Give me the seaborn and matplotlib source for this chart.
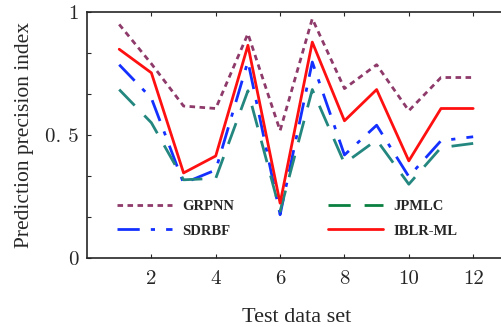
import numpy as np
import pandas as pd
import seaborn as sns
import matplotlib
matplotlib.use('Agg')
import matplotlib.pyplot as plt

# test data sets and prediction precision per method
test_set = [1, 2, 3, 4, 5, 6, 7, 8, 9, 10, 11, 12]
grpnn = [0.95, 0.79, 0.618, 0.608, 0.912, 0.518, 0.973, 0.689, 0.786, 0.599, 0.734, 0.734]
sdrbf = [0.786, 0.65, 0.304, 0.358, 0.80, 0.176, 0.797, 0.419, 0.54, 0.331, 0.477, 0.493]
jpmlc = [0.685, 0.55, 0.318, 0.324, 0.68, 0.19, 0.685, 0.385, 0.48, 0.30, 0.449, 0.466]
iblr_ml = [0.849, 0.753, 0.346, 0.415, 0.865, 0.223, 0.878, 0.558, 0.685, 0.395, 0.608, 0.608]

x_ticks = [2, 4, 6, 8, 10, 12]
y_ticks = [0, 1/6, 2/6, 3/6, 4/6, 5/6, 1]
y_labels = ['0', '', '', '0. 5', '', '', '1']

sns.set_style('ticks')
plt.rcParams['font.family'] = ['Liberation Serif', 'DejaVu Serif']

fig = plt.figure(figsize=(5.01, 3.27), dpi=100)
ax = fig.add_axes([0.1737, 0.211, 0.835, 0.752])

series = [
    ('GRPNN', grpnn, '#8e3a6a', (0, (2, 1.6))),
    ('SDRBF', sdrbf, '#1430ff', (0, (8, 4, 1.5, 4))),
    ('JPMLC', jpmlc, '#23877f', (0, (8, 5))),
    ('IBLR-ML', iblr_ml, '#ff1010', '-'),
]
for name, vals, col, ls in series:
    sns.lineplot(x=test_set, y=vals, ax=ax, color=col, linestyle=ls,
                 linewidth=2, label=name)

ax.set_xlim(0, 13)
ax.set_ylim(0, 1)
ax.set_xticks(x_ticks)
ax.set_yticks(y_ticks)
ax.set_yticklabels(y_labels)
ax.tick_params(direction='in', length=3, width=0.8, top=True, right=True)
ax.tick_params(axis='x', pad=9)
ax.tick_params(axis='y', pad=6)
for lab in ax.get_xticklabels() + ax.get_yticklabels():
    lab.set_fontfamily(['cmr10', 'DejaVu Serif'])
    lab.set_fontsize(15)
for s in ax.spines.values():
    s.set_linewidth(1.2)

ax.set_xlabel('Test data set', fontsize=16, labelpad=14)
ax.set_ylabel('Prediction precision index', fontsize=15.5, labelpad=8)

leg = ax.legend(ncol=2, frameon=False, loc='lower left',
                bbox_to_anchor=(0.04, 0.03), handlelength=3.8,
                columnspacing=6.4, labelspacing=0.75, handletextpad=0.7,
                prop={'weight': 'bold', 'size': 10.5})
leg.legend_handles[2].set_color('#0a8040')

fig.savefig('out.png', dpi=100)
